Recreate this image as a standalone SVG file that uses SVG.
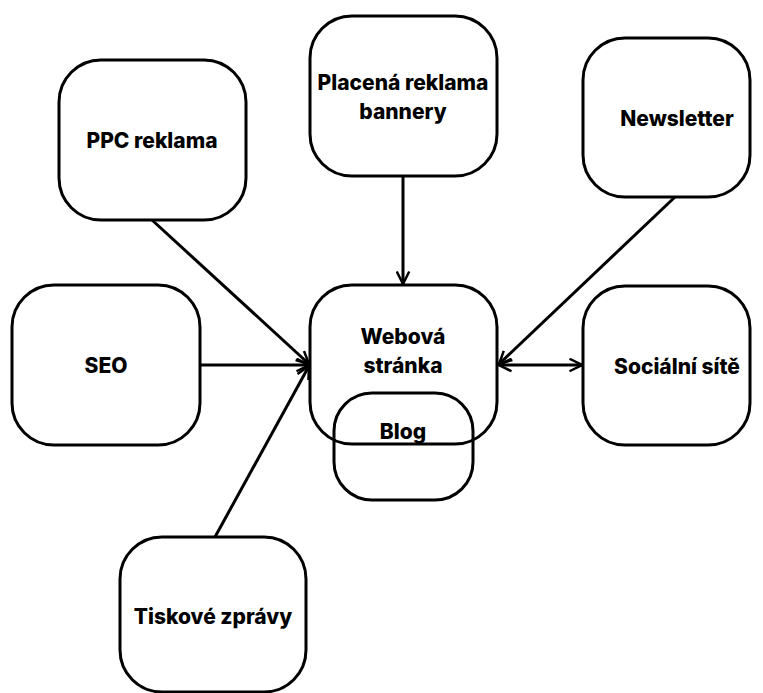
<svg xmlns="http://www.w3.org/2000/svg" width="763" height="693" viewBox="0 0 763 693">
<style>
.box{fill:#fff;stroke:#000;stroke-width:3}
.blog{fill:none;stroke:#000;stroke-width:3}
.t{font-family:Inter,"Liberation Sans",sans-serif;font-weight:800;font-size:21px;text-anchor:middle;fill:#000}
.c{stroke:#000;stroke-width:3;fill:none}
</style>
<defs>
<marker id="ah" viewBox="0 0 12 12" refX="11" refY="6" markerWidth="5" markerHeight="5" orient="auto-start-reverse" markerUnits="strokeWidth">
<path d="M1,1 L11,6 L1,11" fill="none" stroke="#000" stroke-width="2"/>
</marker>
</defs>
<rect width="763" height="693" fill="#fff"/>
<g id="ppc"><rect class="box" x="59" y="60" width="187" height="160" rx="42"/><text class="t" x="152" y="148">PPC reklama</text></g>
<g id="placena"><rect class="box" x="310" y="16" width="187" height="160" rx="42"/><text class="t" x="403" y="90">Placená reklama</text><text class="t" x="403" y="119">bannery</text></g>
<g id="newsletter"><rect class="box" x="583" y="38" width="167" height="159" rx="42"/><text class="t" x="677" y="126">Newsletter</text></g>
<g id="seo"><rect class="box" x="12" y="285" width="188" height="160" rx="42"/><text class="t" x="106" y="373">SEO</text></g>
<g id="webova"><rect class="box" x="310" y="285" width="187" height="159" rx="42"/><text class="t" x="403" y="344">Webová</text><text class="t" x="403" y="373">stránka</text></g>
<g id="socialni"><rect class="box" x="583" y="286" width="167" height="159" rx="42"/><text class="t" x="677" y="374">Sociální sítě</text></g>
<g id="blog"><rect class="blog" x="334" y="393" width="139" height="107" rx="38"/><text class="t" x="403" y="439">Blog</text></g>
<g id="tiskove"><rect class="box" x="120" y="537" width="186" height="155" rx="42"/><text class="t" x="213" y="624">Tiskové zprávy</text></g>
<g id="connectors">
<line class="c" x1="152" y1="220" x2="309" y2="364" marker-end="url(#ah)"/>
<line class="c" x1="200" y1="365" x2="309" y2="365" marker-end="url(#ah)"/>
<line class="c" x1="215" y1="537" x2="309" y2="366" marker-end="url(#ah)"/>
<line class="c" x1="403" y1="176" x2="403" y2="284" marker-end="url(#ah)"/>
<line class="c" x1="675" y1="197" x2="499" y2="364" marker-end="url(#ah)"/>
<line class="c" x1="499" y1="365" x2="582" y2="365" marker-start="url(#ah)" marker-end="url(#ah)"/>
</g>
</svg>
